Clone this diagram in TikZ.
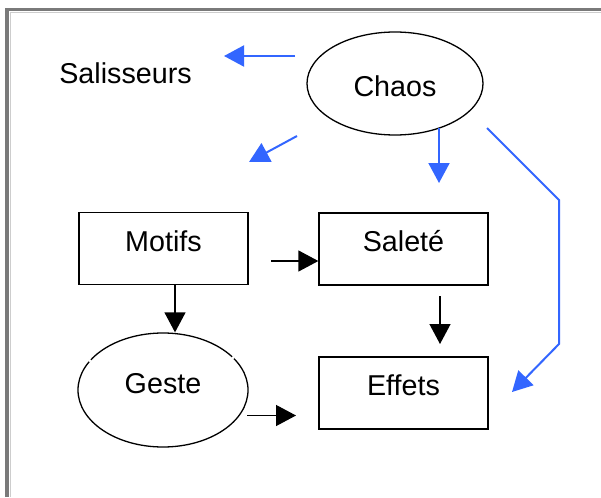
\documentclass[tikz,border=0pt]{standalone}
\usepackage{fontspec}
\setmainfont{Liberation Sans}
\usetikzlibrary{arrows.meta,shapes.geometric}
\definecolor{flowblue}{RGB}{51,102,255}
\definecolor{framegray}{RGB}{122,122,122}
\definecolor{framelight}{RGB}{205,205,205}

\begin{document}
\begin{tikzpicture}[x=1pt,y=-1pt,
  every node/.style={font=\fontsize{28.7}{34}\selectfont, inner sep=0pt},
  box/.style={draw, line width=1.3pt, minimum width=169pt, minimum height=72pt,
              text height=38.5pt, text depth=33.5pt},
  oval/.style={draw, ellipse, line width=1.3pt},
  tip/.style={-{Triangle[length=20pt,width=21pt]}},
  blueflow/.style={tip, color=flowblue, line width=2pt},
  blackflow/.style={tip, line width=1.3pt},
]
% canvas
\useasboundingbox[fill=white] (0,0) rectangle (601,497);

% frame along the top and left edges
\draw[framelight, line width=1pt] (10,497) -- (10,12.5) -- (601,12.5);
\draw[framegray, line width=3.5pt] (7,497) -- (7,9.5) -- (601,9.5);

% nodes
\node[anchor=base] (salisseurs) at (125.5,84) {Salisseurs};
\node[oval, minimum width=176pt, minimum height=103pt,
      text height=27pt, text depth=0pt] (chaos) at (395,83.5) {Chaos};
\node[box] (motifs) at (163.5,248.5) {Motifs};
\node[box] (salete) at (403.5,249) {Saleté};
\node[oval, minimum width=170pt, minimum height=114pt,
      text height=6pt, text depth=0pt] (geste) at (163,390) {Geste};
\node[box] (effets) at (403.5,393) {Effets};

% small breaks in the outline of the Geste oval
\fill[white] (90,360.8) circle (1.6);
\fill[white] (233,357.7) circle (1.6);

% connector end points
\coordinate (chaosW)   at (295,56);
\coordinate (toSal)    at (224,56);
\coordinate (chaosSW)  at (297,136);
\coordinate (toLeft)   at (249,162);
\coordinate (chaosS)   at (439,128);
\coordinate (toSalete) at (439,183);
\coordinate (chaosSE)  at (487,128);
\coordinate (bendA)    at (559,200);
\coordinate (bendB)    at (559,344);
\coordinate (toEffets) at (512,392);
\coordinate (motifsE)  at (271,261);
\coordinate (gesteE)   at (247,415.5);
\coordinate (gesteTip) at (296,415.5);
\coordinate (saleteS)  at (440,296);
\coordinate (effetsN)  at (440,344);

% blue connectors from Chaos
\draw[blueflow] (chaosW) -- (toSal);
\draw[blueflow] (chaosSW) -- (toLeft);
\draw[blueflow] (chaosS) -- (toSalete);
\draw[blueflow] (chaosSE) -- (bendA) -- (bendB) -- (toEffets);

% black connectors
\draw[blackflow] (motifsE) -- (motifsE -| salete.west);
\draw[blackflow] ([xshift=11.5pt]motifs.south) -- ([xshift=12pt]geste.north);
\draw[blackflow] (gesteE) -- (gesteTip);
\draw[blackflow] (saleteS) -- (effetsN);
\end{tikzpicture}
\end{document}
